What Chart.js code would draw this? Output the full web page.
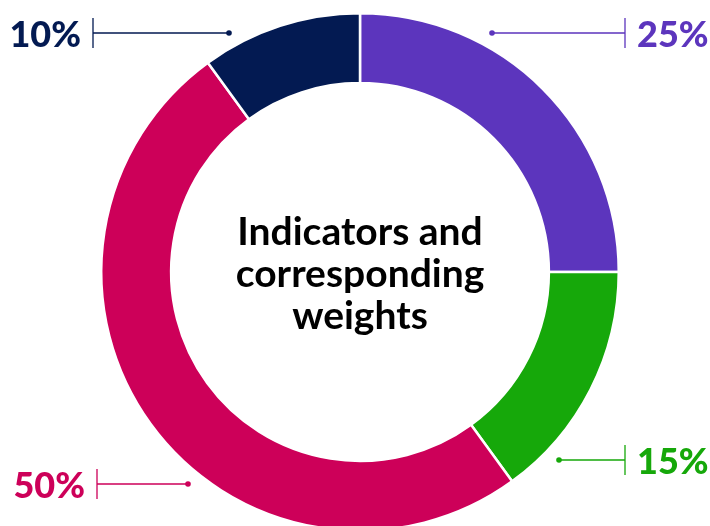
<!DOCTYPE html>
<html>
<head>
<meta charset="utf-8">
<script src="https://cdn.jsdelivr.net/npm/chart.js@4/dist/chart.umd.min.js"></script>
<style>
  html, body { margin: 0; padding: 0; background: #fff; overflow: hidden; }
  #wrap { width: 710px; height: 526px; overflow: hidden; }
</style>
</head>
<body>
<div id="wrap"><canvas id="myChart" width="710" height="544"></canvas></div>
<script>
// chart data, clockwise from 12 o'clock
const categories = ['Indicator A', 'Indicator B', 'Indicator C', 'Indicator D'];
const weights = [25, 15, 50, 10];
const colors = ['#5c35bd', '#16a80a', '#cd0059', '#031a52'];
const centerTitle = ['Indicators and', 'corresponding', 'weights'];

// leader lines for each slice: dot position, tick x, text side (relative to chart centre)
const callouts = [
  { dot: [132, -239], tick: 265, side: 'right' },
  { dot: [199, 188], tick: 265, side: 'right' },
  { dot: [-172, 212], tick: -263, side: 'left' },
  { dot: [-131, -239], tick: -267, side: 'left' },
];

const calloutPlugin = {
  id: 'callouts',
  afterDraw(chart) {
    const ctx = chart.ctx;
    const arc = chart.getDatasetMeta(0).data[0];
    const cx = arc.x, cy = arc.y;

    ctx.save();
    callouts.forEach((c, i) => {
      const col = colors[i];
      const dx = cx + c.dot[0], y = cy + c.dot[1];
      const tx = cx + c.tick;
      ctx.strokeStyle = col;
      ctx.fillStyle = col;
      ctx.lineWidth = 1.3;
      ctx.beginPath();
      ctx.moveTo(dx, y);
      ctx.lineTo(tx, y);
      ctx.moveTo(tx, y - 15);
      ctx.lineTo(tx, y + 15);
      ctx.stroke();
      ctx.beginPath();
      ctx.arc(dx, y, 2.8, 0, Math.PI * 2);
      ctx.fill();

      ctx.font = '900 36px Lato';
      ctx.textBaseline = 'middle';
      const txt = weights[i] + '%';
      if (c.side === 'right') {
        ctx.textAlign = 'left';
        ctx.fillText(txt, tx + 12, y + 2);
      } else {
        ctx.textAlign = 'right';
        ctx.fillText(txt, tx - 12, y + 2);
      }
    });

    // centre title
    ctx.fillStyle = '#000';
    ctx.font = 'bold 39px Lato';
    ctx.textAlign = 'center';
    ctx.textBaseline = 'alphabetic';
    centerTitle.forEach((line, i) => {
      ctx.fillText(line, cx, cy - 27 + i * 42);
    });
    ctx.restore();
  }
};

const ctx = document.getElementById('myChart').getContext('2d');
new Chart(ctx, {
  type: 'doughnut',
  data: {
    labels: categories,
    datasets: [{
      data: weights,
      backgroundColor: colors,
      borderColor: '#ffffff',
      borderWidth: 2.5,
      hoverOffset: 0,
    }],
  },
  options: {
    responsive: false,
    animation: false,
    cutout: '73%',
    layout: { padding: { left: 100, right: 90, top: 12, bottom: 12 } },
    plugins: {
      legend: { display: false },
      tooltip: { enabled: false },
    },
  },
  plugins: [calloutPlugin],
});
</script>
</body>
</html>
